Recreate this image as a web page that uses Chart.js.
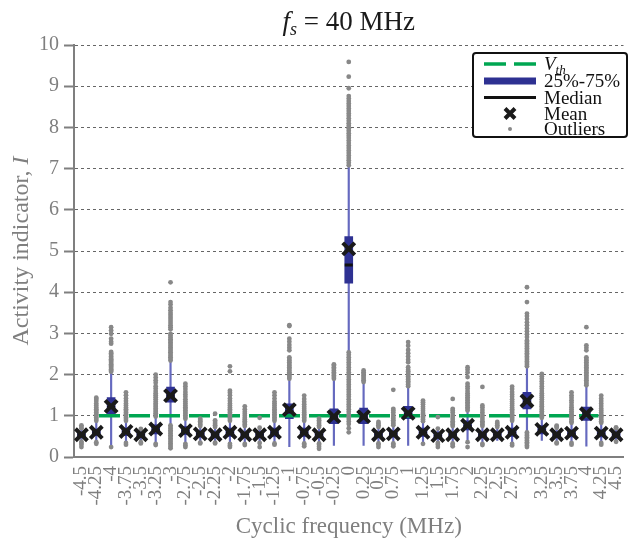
<!DOCTYPE html>
<html>
<head>
<meta charset="utf-8">
<script src="https://cdn.jsdelivr.net/npm/chart.js@4"></script>
<style>
  html, body { margin: 0; padding: 0; background: #fff; }
  #wrap { width: 636px; height: 545px; }
</style>
</head>
<body>
<div id="wrap"><canvas id="chart"></canvas></div>
<script>
// Cyclic frequencies (MHz)
const labels = ["-4.5", "-4.25", "-4", "-3.75", "-3.5", "-3.25", "-3", "-2.75", "-2.5",
  "-2.25", "-2", "-1.75", "-1.5", "-1.25", "-1", "-0.75", "-0.5", "-0.25", "0",
  "0.25", "0.5", "0.75", "1", "1.25", "1.5", "1.75", "2", "2.25", "2.5",
  "2.75", "3", "3.25", "3.5", "3.75", "4", "4.25", "4.5"];

// box plot statistics, one value per frequency
const whiskerLow = [0.40, 0.40, 0.30, 0.38, 0.38, 0.35, 0.80, 0.35, 0.38, 0.38, 0.35, 0.36, 0.38,
  0.36, 0.25, 0.35, 0.36, 0.28, 2.55, 0.28, 0.36, 0.36, 0.28, 0.36, 0.38, 0.36, 0.40, 0.36,
  0.40, 0.36, 0.62, 0.40, 0.38, 0.38, 0.26, 0.38, 0.40];
const q1 = [0.47, 0.52, 1.05, 0.52, 0.47, 0.56, 1.33, 0.54, 0.48, 0.47, 0.50, 0.47, 0.47,
  0.50, 0.93, 0.50, 0.47, 0.81, 4.22, 0.81, 0.47, 0.48, 0.93, 0.50, 0.46, 0.47, 0.66, 0.47,
  0.47, 0.50, 1.17, 0.56, 0.47, 0.49, 0.89, 0.49, 0.47];
const median = [0.53, 0.59, 1.20, 0.60, 0.53, 0.65, 1.48, 0.62, 0.55, 0.53, 0.58, 0.53, 0.53,
  0.58, 1.10, 0.58, 0.53, 0.95, 4.66, 0.95, 0.53, 0.55, 1.03, 0.58, 0.51, 0.53, 0.74, 0.53,
  0.53, 0.58, 1.33, 0.64, 0.53, 0.56, 1.02, 0.56, 0.53];
const q3 = [0.60, 0.68, 1.44, 0.70, 0.60, 0.78, 1.70, 0.74, 0.63, 0.60, 0.70, 0.60, 0.60,
  0.70, 1.29, 0.70, 0.60, 1.17, 5.35, 1.19, 0.60, 0.63, 1.23, 0.70, 0.58, 0.60, 0.88, 0.60,
  0.60, 0.70, 1.57, 0.76, 0.60, 0.66, 1.21, 0.66, 0.60];
const whiskerHigh = [0.68, 0.85, 2.04, 0.85, 0.66, 0.95, 2.30, 0.90, 0.72, 0.70, 0.85, 0.72, 0.68,
  0.85, 1.88, 0.85, 0.70, 1.88, 7.05, 1.80, 0.70, 0.74, 1.70, 0.84, 0.66, 0.72, 1.10, 0.72,
  0.70, 0.85, 2.18, 0.92, 0.68, 0.80, 1.72, 0.80, 0.68];
const means = [0.54, 0.60, 1.23, 0.62, 0.54, 0.68, 1.49, 0.64, 0.56, 0.54, 0.60, 0.54, 0.54,
  0.60, 1.15, 0.60, 0.54, 0.98, 5.05, 0.98, 0.54, 0.56, 1.06, 0.60, 0.52, 0.54, 0.77, 0.54,
  0.54, 0.60, 1.36, 0.67, 0.54, 0.58, 1.05, 0.58, 0.54];

// outliers per frequency (same order as labels)
const outliers = [
  [0.24, 0.30, 0.34, 0.37, 0.70, 0.73, 0.77],
  [0.32, 0.36, 0.88, 0.92, 0.96, 1.00, 1.04, 1.08, 1.12, 1.16, 1.20, 1.25, 1.30, 1.36, 1.41, 1.44],
  [0.24, 2.07, 2.10, 2.13, 2.16, 2.19, 2.22, 2.25, 2.28, 2.31, 2.34, 2.37, 2.40, 2.44, 2.48, 2.52, 2.55, 2.75, 2.80, 2.87, 2.99, 3.07, 3.15],
  [0.30, 0.34, 0.88, 0.92, 0.96, 1.00, 1.04, 1.08, 1.12, 1.16, 1.20, 1.25, 1.30, 1.36, 1.42, 1.50, 1.57],
  [0.33, 0.36, 0.68],
  [0.29, 0.32, 0.98, 1.02, 1.06, 1.10, 1.14, 1.18, 1.22, 1.26, 1.30, 1.35, 1.40, 1.45, 1.50, 1.55, 1.60, 1.66, 1.72, 1.80, 1.86, 1.93, 2.00],
  [0.21, 0.25, 0.29, 0.33, 0.37, 0.41, 0.45, 0.49, 0.53, 0.57, 0.61, 0.65, 0.69, 0.73, 0.77,
   2.34, 2.38, 2.42, 2.46, 2.50, 2.54, 2.58, 2.62, 2.66, 2.70, 2.74, 2.78, 2.82, 2.86, 2.90, 2.95, 2.99,
   3.10, 3.15, 3.20, 3.25, 3.30, 3.35, 3.40, 3.45, 3.50, 3.56, 3.62, 3.70, 3.76, 4.24],
  [0.24, 0.28, 0.32, 0.93, 0.97, 1.01, 1.05, 1.09, 1.13, 1.17, 1.21, 1.25, 1.30, 1.35, 1.40, 1.46, 1.52, 1.58, 1.65, 1.72, 1.78],
  [0.33, 0.35, 0.75, 0.79, 0.83, 0.87, 0.90, 0.93],
  [0.33, 0.35, 0.73, 0.77, 0.81, 0.85, 0.89, 1.05],
  [0.24, 0.28, 0.32, 0.88, 0.92, 0.96, 1.00, 1.04, 1.08, 1.12, 1.16, 1.20, 1.25, 1.30, 1.36, 1.42, 1.50, 1.56, 1.61, 2.08, 2.20],
  [0.29, 0.32, 0.75, 0.79, 0.83, 0.87, 0.91, 0.95, 1.00, 1.05, 1.10, 1.16, 1.23],
  [0.24, 0.34, 0.71, 0.95],
  [0.30, 0.33, 0.88, 0.92, 0.96, 1.00, 1.04, 1.08, 1.12, 1.16, 1.20, 1.25, 1.30, 1.35, 1.42, 1.50, 1.57],
  [1.90, 1.94, 1.98, 2.02, 2.06, 2.10, 2.14, 2.18, 2.22, 2.26, 2.30, 2.34, 2.38, 2.42, 2.59, 2.65, 2.72, 2.80, 2.87, 3.18, 3.20],
  [0.26, 0.30, 0.33, 0.88, 0.92, 0.96, 1.00, 1.04, 1.08, 1.12, 1.17, 1.22, 1.28, 1.34, 1.41, 1.49],
  [0.20, 0.25, 0.30, 0.33, 0.73, 0.77, 0.81, 0.85, 0.89, 0.93],
  [1.90, 1.94, 1.98, 2.02, 2.06, 2.10, 2.14, 2.18, 2.22, 2.25],
  [0.60, 0.70, 0.80, 0.86, 0.92, 0.98, 1.04, 1.10, 1.16, 1.22, 1.28, 1.34, 1.40, 1.46, 1.52, 1.58,
   1.64, 1.70, 1.76, 1.82, 1.88, 1.94, 2.00, 2.06, 2.12, 2.18, 2.24, 2.30, 2.36, 2.42, 2.48, 2.54,
   7.08, 7.14, 7.20, 7.26, 7.32, 7.38, 7.44, 7.50, 7.56, 7.62, 7.68, 7.74, 7.80, 7.86, 7.92, 7.98,
   8.04, 8.10, 8.16, 8.22, 8.28, 8.34, 8.40, 8.46, 8.52, 8.58, 8.64, 8.70, 8.76, 8.95, 9.23, 9.59],
  [1.82, 1.86, 1.90, 1.94, 1.98, 2.02, 2.06, 2.10],
  [0.24, 0.30, 0.33, 0.73, 0.77, 0.81, 0.85],
  [0.26, 0.30, 0.33, 0.77, 0.81, 0.85, 0.89, 0.93, 0.97, 1.02, 1.08, 1.13, 1.17, 1.63],
  [1.72, 1.76, 1.80, 1.84, 1.88, 1.92, 1.96, 2.00, 2.04, 2.08, 2.12, 2.18, 2.30, 2.36, 2.44, 2.52, 2.60, 2.70, 2.79],
  [0.32, 0.87, 0.91, 0.95, 0.99, 1.03, 1.07, 1.12, 1.17, 1.22, 1.28, 1.33, 1.37],
  [0.24, 0.30, 0.34, 0.69, 0.97],
  [0.26, 0.30, 0.33, 0.75, 0.79, 0.83, 0.87, 0.92, 0.97, 1.02, 1.08, 1.13, 1.17, 1.41],
  [0.24, 0.36, 1.13, 1.17, 1.21, 1.25, 1.29, 1.33, 1.37, 1.41, 1.45, 1.50, 1.55, 1.60, 1.66, 1.72, 1.78, 1.94, 2.05, 2.12, 2.18],
  [0.29, 0.32, 0.75, 0.79, 0.83, 0.87, 0.92, 0.97, 1.02, 1.08, 1.14, 1.20, 1.25, 1.70],
  [0.73, 0.77, 0.81, 0.85],
  [0.28, 0.32, 0.88, 0.92, 0.96, 1.00, 1.04, 1.08, 1.12, 1.16, 1.20, 1.25, 1.30, 1.35, 1.40, 1.46, 1.52, 1.58, 1.65, 1.71],
  [0.24, 0.28, 0.32, 0.36, 0.40, 0.44, 0.48, 0.52, 0.56, 0.60,
   2.20, 2.24, 2.28, 2.32, 2.36, 2.40, 2.44, 2.48, 2.52, 2.56, 2.60, 2.64, 2.68, 2.72, 2.76, 2.80,
   2.83, 2.91, 2.98, 3.05, 3.12, 3.20, 3.27, 3.35, 3.42, 3.48, 3.76, 4.12],
  [0.95, 0.99, 1.03, 1.07, 1.11, 1.15, 1.19, 1.23, 1.27, 1.31, 1.35, 1.40, 1.45, 1.50, 1.55, 1.60, 1.66, 1.72, 1.78, 1.84, 1.90, 1.96, 2.02],
  [0.33, 0.35, 0.71, 0.74, 0.76],
  [0.30, 0.34, 0.83, 0.87, 0.91, 0.95, 0.99, 1.03, 1.07, 1.11, 1.16, 1.21, 1.26, 1.32, 1.38, 1.44, 1.50, 1.57],
  [1.74, 1.78, 1.82, 1.86, 1.90, 1.94, 1.98, 2.02, 2.06, 2.10, 2.14, 2.18, 2.22, 2.26, 2.30, 2.34, 2.38, 2.42, 2.59, 2.65, 2.71, 3.15],
  [0.30, 0.34, 0.83, 0.87, 0.91, 0.95, 0.99, 1.03, 1.08, 1.13, 1.18, 1.24, 1.30, 1.36, 1.42, 1.49],
  [0.37, 0.70, 0.72]
];

const threshold = 1; // V_th

const SERIF = '"Liberation Serif", "DejaVu Serif", serif';
const GREY = "#7f7f7f";
const GREEN = "#00a651";
const BLUE = "#2e3192";
const WHISKER = "#6569bf";
const DOT = "#888888";

// draws text made of several pieces (italic, subscript...)
function drawRuns(ctx, runs, x, y, align) {
  let total = 0;
  runs.forEach((r) => {
    ctx.font = r.font;
    r.w = ctx.measureText(r.text).width;
    total += r.w;
  });
  let cx = align === "center" ? x - total / 2 : x;
  ctx.textAlign = "left";
  ctx.textBaseline = "alphabetic";
  runs.forEach((r) => {
    ctx.font = r.font;
    ctx.fillText(r.text, cx, y + (r.dy || 0));
    cx += r.w;
  });
}

// title, y axis title and legend box
const decorations = {
  id: "decorations",
  afterDraw(chart) {
    const ctx = chart.ctx;
    const area = chart.chartArea;
    ctx.save();

    // title
    ctx.fillStyle = "#1a1a1a";
    drawRuns(ctx, [
      { text: "f", font: "italic 27px " + SERIF },
      { text: "s", font: "italic 18px " + SERIF, dy: 5 },
      { text: " = 40 MHz", font: "27px " + SERIF }
    ], (area.left + area.right) / 2, 30, "center");

    // y axis title
    ctx.save();
    ctx.translate(28, (area.top + area.bottom) / 2);
    ctx.rotate(-Math.PI / 2);
    ctx.fillStyle = GREY;
    drawRuns(ctx, [
      { text: "Activity indicator, ", font: "24px " + SERIF },
      { text: "I", font: "italic 24px " + SERIF }
    ], 0, 0, "center");
    ctx.restore();

    // legend
    const lx = 473, ly = 53, lw = 154, lh = 84;
    ctx.fillStyle = "#fff";
    ctx.strokeStyle = "#111";
    ctx.lineWidth = 2;
    ctx.beginPath();
    ctx.roundRect(lx, ly, lw, lh, 3);
    ctx.fill();
    ctx.stroke();

    const sx1 = 484, sx2 = 536, tx = 544;
    const rows = [64, 81, 97.5, 113.5, 129];

    ctx.lineCap = "butt";
    // V_th
    ctx.strokeStyle = GREEN;
    ctx.lineWidth = 3.5;
    ctx.setLineDash([22, 8]);
    ctx.beginPath();
    ctx.moveTo(sx1, rows[0]);
    ctx.lineTo(sx2, rows[0]);
    ctx.stroke();
    ctx.setLineDash([]);
    // 25%-75%
    ctx.strokeStyle = BLUE;
    ctx.lineWidth = 7;
    ctx.beginPath();
    ctx.moveTo(sx1, rows[1]);
    ctx.lineTo(sx2, rows[1]);
    ctx.stroke();
    // median
    ctx.strokeStyle = "#111";
    ctx.lineWidth = 3;
    ctx.beginPath();
    ctx.moveTo(sx1, rows[2]);
    ctx.lineTo(sx2, rows[2]);
    ctx.stroke();
    // mean
    const mx = (sx1 + sx2) / 2, r = 5;
    ctx.strokeStyle = "#1a1a1a";
    ctx.lineWidth = 4;
    ctx.beginPath();
    ctx.moveTo(mx - r, rows[3] - r);
    ctx.lineTo(mx + r, rows[3] + r);
    ctx.moveTo(mx - r, rows[3] + r);
    ctx.lineTo(mx + r, rows[3] - r);
    ctx.stroke();
    // outliers
    ctx.fillStyle = DOT;
    ctx.beginPath();
    ctx.arc(mx, rows[4], 2, 0, Math.PI * 2);
    ctx.fill();

    ctx.fillStyle = "#111";
    const f = "19px " + SERIF;
    drawRuns(ctx, [
      { text: "V", font: "italic 19px " + SERIF },
      { text: "th", font: "italic 13px " + SERIF, dy: 4 }
    ], tx, rows[0] + 6, "left");
    drawRuns(ctx, [{ text: "25%-75%", font: f }], tx, rows[1] + 6, "left");
    drawRuns(ctx, [{ text: "Median", font: f }], tx, rows[2] + 6, "left");
    drawRuns(ctx, [{ text: "Mean", font: f }], tx, rows[3] + 6, "left");
    drawRuns(ctx, [{ text: "Outliers", font: f }], tx, rows[4] + 6, "left");

    ctx.restore();
  }
};

const outlierPoints = [];
outliers.forEach((list, i) => {
  list.forEach((v) => outlierPoints.push({ x: labels[i], y: v }));
});

new Chart(document.getElementById("chart"), {
  type: "bar",
  data: {
    labels: labels,
    datasets: [
      {
        label: "Mean",
        type: "line",
        data: means.map((v, i) => ({ x: labels[i], y: v })),
        showLine: false,
        pointStyle: "crossRot",
        pointRadius: 8.5,
        pointBorderWidth: 4,
        borderColor: "#1a1a1a",
        backgroundColor: "#1a1a1a",
        order: 1
      },
      {
        label: "Outliers",
        type: "line",
        data: outlierPoints,
        showLine: false,
        pointStyle: "circle",
        pointRadius: 2.4,
        pointBorderWidth: 0,
        backgroundColor: DOT,
        borderColor: DOT,
        order: 2
      },
      {
        label: "Median",
        type: "line",
        data: median.map((v, i) => ({ x: labels[i], y: v })),
        showLine: false,
        pointStyle: "line",
        pointRadius: 4,
        pointBorderWidth: 3,
        borderColor: "#111",
        order: 3
      },
      {
        label: "V_th",
        type: "line",
        xAxisID: "xv",
        data: [{ x: 0, y: threshold }, { x: 1, y: threshold }],
        borderColor: GREEN,
        borderWidth: 3.5,
        borderDash: [21, 9],
        pointRadius: 0,
        order: 4
      },
      {
        label: "25%-75%",
        data: q1.map((v, i) => [v, q3[i]]),
        backgroundColor: BLUE,
        barThickness: 8,
        grouped: false,
        order: 5
      },
      {
        label: "Whiskers",
        data: whiskerLow.map((v, i) => [v, whiskerHigh[i]]),
        backgroundColor: WHISKER,
        barThickness: 1.5,
        grouped: false,
        order: 6
      }
    ]
  },
  options: {
    responsive: true,
    maintainAspectRatio: false,
    animation: false,
    events: [],
    layout: { padding: { top: 45, left: 0, right: 0, bottom: 0 } },
    plugins: {
      legend: { display: false },
      tooltip: { enabled: false }
    },
    scales: {
      x: {
        type: "category",
        offset: true,
        grid: { display: false, drawTicks: false },
        border: { display: true, color: GREY, width: 2 },
        ticks: {
          autoSkip: false,
          minRotation: 90,
          maxRotation: 90,
          padding: 9,
          color: GREY,
          font: { family: SERIF, size: 19 }
        },
        title: {
          display: true,
          text: "Cyclic frequency (MHz)",
          color: GREY,
          font: { family: SERIF, size: 23 },
          padding: { top: 0, bottom: 4 }
        },
        afterFit(scale) {
          scale.height = 88;
          scale.paddingLeft = 0;
          scale.paddingRight = 0;
        }
      },
      xv: {
        type: "linear",
        min: 0,
        max: 1,
        display: false
      },
      y: {
        min: 0,
        max: 10,
        ticks: {
          stepSize: 1,
          padding: 5,
          color: GREY,
          font: { family: SERIF, size: 20 }
        },
        grid: {
          color: "#666",
          lineWidth: 1,
          tickLength: 10,
          tickColor: GREY,
          tickWidth: 2
        },
        border: { display: true, color: GREY, width: 2, dash: [3, 3] },
        afterFit(scale) {
          scale.width = 74;
        }
      }
    }
  },
  plugins: [decorations]
});
</script>
</body>
</html>
